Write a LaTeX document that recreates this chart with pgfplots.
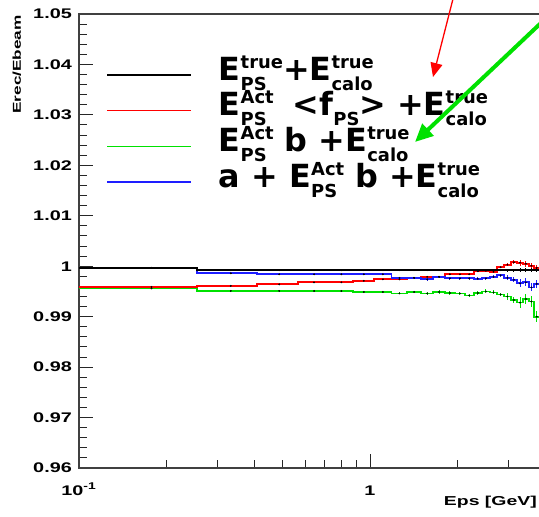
\documentclass[border=0pt]{standalone}
\usepackage{fontspec}
\setmainfont{Liberation Sans}
\newfontfamily\dejavu{DejaVu Sans}
\usepackage{graphicx}
\usepackage{pgfplots}
\usepackage{pgfplotstable}
\pgfplotsset{compat=1.18}
\usetikzlibrary{arrows.meta}
\definecolor{rred}{RGB}{255,0,0}
\definecolor{rgreen}{RGB}{0,225,0}
\definecolor{rblue}{RGB}{30,30,255}
\newcommand{\rt}[2][1.42]{\scalebox{#1}[1]{\bfseries #2}}
\newcommand{\ssb}[2]{{\fontsize{18}{18}\selectfont\setbox0\hbox{#1}\setbox2\hbox{#2}%
 \ifdim\wd0>\wd2\relax\rlap{\raisebox{-10bp}{\copy2}}\raisebox{12bp}{\copy0}%
 \else\rlap{\raisebox{12bp}{\copy0}}\raisebox{-10bp}{\copy2}\fi}}
\newcommand{\sbx}[1]{\raisebox{-10bp}{\fontsize{18}{18}\selectfont #1}}

\pgfplotstableread{
x     black  red    green  blue   e
0.100 0.9997 0.9959 0.9956 0.9997 0.00015
0.255 0.9992 0.9961 0.9951 0.9986 0.00015
0.410 0.9992 0.9964 0.9951 0.9984 0.00015
0.565 0.9992 0.9968 0.9951 0.9984 0.00015
0.720 0.9992 0.9968 0.9951 0.9984 0.00015
0.875 0.9992 0.9971 0.9949 0.9984 0.00015
1.030 0.9992 0.9974 0.9949 0.9984 0.00015
1.185 0.9992 0.9974 0.9946 0.9977 0.00015
1.340 0.9992 0.9977 0.9949 0.9977 0.00015
1.495 0.9992 0.9979 0.9946 0.9974 0.00025
1.650 0.9992 0.9979 0.9949 0.9979 0.00025
1.805 0.9992 0.9984 0.9947 0.9976 0.00025
1.960 0.9992 0.9984 0.9946 0.9976 0.00025
2.115 0.9992 0.9984 0.9942 0.9976 0.00025
2.270 0.9992 0.9990 0.9947 0.9975 0.0003
2.425 0.9992 0.9991 0.9950 0.9976 0.0003
2.580 0.9992 0.9989 0.9948 0.9979 0.0003
2.735 0.9992 0.9998 0.9944 0.9982 0.0003
2.890 0.9992 1.0003 0.9940 0.9977 0.0005
3.045 0.9992 1.0008 0.9933 0.9973 0.0005
3.200 0.9992 1.0007 0.9928 0.9966 0.0008
3.355 0.9992 1.0005 0.9935 0.9968 0.0008
3.510 0.9992 1.0001 0.9930 0.9958 0.0008
3.665 0.9992 0.9997 0.9900 0.9965 0.0008
3.820 0.9992 0.9997 0.9900 0.9965 0.0008
}\data

\begin{document}
\begin{tikzpicture}
\begin{axis}[
  at={(0,0)}, anchor=south west,
  scale only axis, width=466.2bp, height=454bp,
  xmode=log, xmin=0.1, xmax=4.0, ymin=0.96, ymax=1.05,
  xtick={0.1,1}, xticklabels={\rt{10\textsuperscript{-1}},\rt{1}},
  minor xtick={0.2,0.3,0.4,0.5,0.6,0.7,0.8,0.9,2,3},
  ytick={0.96,0.97,0.98,0.99,1.0,1.01,1.02,1.03,1.04,1.05},
  yticklabels={\rt{0.96},\rt{0.97},\rt{0.98},\rt{0.99},\rt{1},\rt{1.01},\rt{1.02},\rt{1.03},\rt{1.04},\rt{1.05}},
  minor y tick num=4,
  tick align=inside, xtick pos=left, ytick pos=left,
  major tick length=14bp, minor tick length=8bp,
  tick style={line width=1bp, black!85},
  axis line style={line width=1.5bp, black!75},
  ticklabel style={font=\fontsize{14}{14}\selectfont},
  yticklabel style={inner sep=0pt, xshift=-7bp},
  xticklabel style={inner sep=0pt, anchor=base, yshift=-27bp},
  xlabel={\rt[1.5]{Eps [GeV]}},
  xlabel style={at={(rel axis cs:0.9824,0)}, anchor=base east, yshift=-37bp, inner sep=0pt, font=\fontsize{13}{13}\selectfont},
  ylabel={\rt[1.5]{Erec/Ebeam}},
  every axis y label/.style={at={(rel axis cs:-0.1244,0.9978)}, rotate=90, anchor=base east, inner sep=0pt, font=\fontsize{11.5}{11.5}\selectfont},
  legend style={draw=none, fill=none, inner sep=0pt, at={(0.05845,0.9053)}, anchor=north west,
     row sep=0pt, nodes={inner sep=0pt, text height=23bp, text depth=12.7bp},
     /tikz/every odd column/.append style={column sep=27bp},
     font=\dejavu\bfseries\fontsize{32}{32}\selectfont},
  legend cell align=left,
  legend image code/.code={\draw[#1, line width=1.5bp] (0,0) -- (84bp,0);},
]
\addplot[black, line width=1.8bp, const plot, mark=none] table[x=x,y=black]{\data};
\addlegendentry{E\ssb{true}{PS}+E\ssb{true}{calo}}
\addplot[rred, line width=1.8bp, const plot, mark=none] table[x=x,y=red]{\data};
\addlegendentry{E\ssb{Act}{PS}\hspace{19bp}<f\sbx{PS}> +E\ssb{true}{calo}}
\addplot[rgreen, line width=1.8bp, const plot, mark=none] table[x=x,y=green]{\data};
\addlegendentry{E\ssb{Act}{PS} b +E\ssb{true}{calo}}
\addplot[rblue, line width=1.8bp, const plot, mark=none] table[x=x,y=blue]{\data};
\addlegendentry{a + E\ssb{Act}{PS} b +E\ssb{true}{calo}}
\addplot[black, line width=1.8bp, const plot, mark=none, forget plot] table[x=x,y=black]{\data};
% error bars at bin centres
\addplot[rred, only marks, mark=*, mark size=0.7bp, mark options={black}, forget plot, skip coords between index={24}{25},
  error bars/.cd, y dir=both, y explicit, error mark=none, error bar style={rred, line width=1bp}]
  table[x expr=\thisrow{x}+0.0775, y=red, y error expr=\thisrow{e}*0.7]{\data};
\addplot[rgreen, only marks, mark=*, mark size=0.7bp, mark options={black}, forget plot, skip coords between index={24}{25},
  error bars/.cd, y dir=both, y explicit, error mark=none, error bar style={rgreen, line width=1bp}]
  table[x expr=\thisrow{x}+0.0775, y=green, y error expr=\thisrow{e}*1.3]{\data};
\addplot[rblue, only marks, mark=*, mark size=0.7bp, mark options={black}, forget plot, skip coords between index={24}{25},
  error bars/.cd, y dir=both, y explicit, error mark=none, error bar style={rblue, line width=1bp}]
  table[x expr=\thisrow{x}+0.0775, y=blue, y error expr=\thisrow{e}]{\data};
\addplot[black, only marks, mark=*, mark size=0.6bp, forget plot, skip coords between index={24}{25},
  error bars/.cd, y dir=both, y explicit, error mark=none, error bar style={black, line width=1bp}]
  table[x expr=\thisrow{x}+0.0775, y=black, y error expr=\thisrow{e}*0.5]{\data};
\end{axis}
\draw[rred, line width=1.3bp, -{Triangle[length=14bp,width=12bp]}] (375bp,473bp) -- (354bp,391bp);
\draw[rgreen, line width=4bp, -{Triangle[length=18bp,width=16bp]}] (481bp,463bp) -- (336bp,326bp);
\pgfresetboundingbox
\useasboundingbox (-79bp,-49bp) rectangle (460bp,468bp);
\end{tikzpicture}
\end{document}
